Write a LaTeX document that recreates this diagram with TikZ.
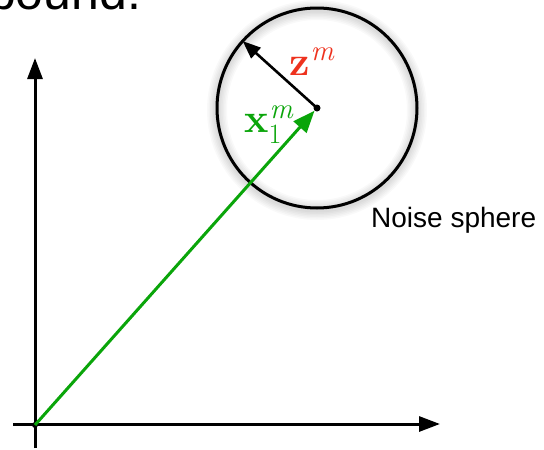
\documentclass[tikz,border=0pt]{standalone}
\usepackage{fontspec}
\newfontfamily\arialsans{Liberation Sans}
\newfontfamily\lmfont{Latin Modern Roman}
\usetikzlibrary{arrows.meta}
\definecolor{vgreen}{RGB}{10,165,10}
\definecolor{zred}{RGB}{238,50,30}
\newcommand{\bigsym}[1]{{\lmfont\fontsize{41}{44}\selectfont\bfseries #1}}
\newcommand{\smallit}[1]{{\lmfont\fontsize{29}{30}\selectfont\itshape #1}}
\newcommand{\smallup}[1]{{\lmfont\fontsize{28}{30}\selectfont #1}}
\tikzset{
  axis/.style={line width=3pt,-{Triangle[length=21pt,width=15pt]}},
  garrow/.style={draw=vgreen,line width=3pt,-{Triangle[length=22pt,width=17pt]}},
  zarrow/.style={draw=black,line width=2.6pt,-{Triangle[length=18pt,width=14pt]}},
  mathlbl/.style={anchor=base west,inner sep=0pt},
  txtlbl/.style={anchor=base west,inner sep=0pt,font=\arialsans\fontsize{28}{32}\selectfont},
  glow/.style={draw=black,opacity=0.025},
}
\begin{document}
\begin{tikzpicture}[x=1pt,y=-1pt]
\useasboundingbox (0,0) rectangle (544,450);
\clip (0,0) rectangle (544,450);
\fill[white] (0,0) rectangle (544,450);
% cropped title line
\node[anchor=base west,inner sep=0pt,font=\arialsans\fontsize{50}{60}\selectfont] (title) at (-12,9) {bound.};
% axes
\coordinate (O) at (35,425);
\coordinate (ytop) at (35,58);
\coordinate (ybot) at (35,448);
\coordinate (xleft) at (13,424);
\coordinate (xright) at (440,424);
\draw[axis] (ybot) -- (ytop);
\draw[axis] (xleft) -- (xright);
\fill (O) circle (3pt);
% soft shadow of the sphere
\foreach \w in {5,8,11,14,17,20}{
  \draw[glow,line width=\w pt] (317,110) circle (100pt);
}
% sphere
\node[circle,draw,line width=3pt,minimum size=200pt,inner sep=0pt,outer sep=0pt] (sphere) at (317,108) {};
\node[circle,fill,inner sep=0pt,minimum size=7pt] (c) at (317,108) {};
\draw[zarrow] (c.center) -- (sphere.138);
\draw[garrow] (O) -- (c);
% labels
\node[mathlbl,text=zred] (zl) at (289,75) {\bigsym{z}\kern1pt\raisebox{15pt}{\smallit{m}}};
\node[mathlbl,text=vgreen] (xl) at (244,132) {\bigsym{x}\rlap{\raisebox{-11pt}{\smallup{1}}}\kern1pt\raisebox{14pt}{\smallit{m}}};
\node[txtlbl] (ns) at (371,227) {Noise sphere};
\end{tikzpicture}
\end{document}
